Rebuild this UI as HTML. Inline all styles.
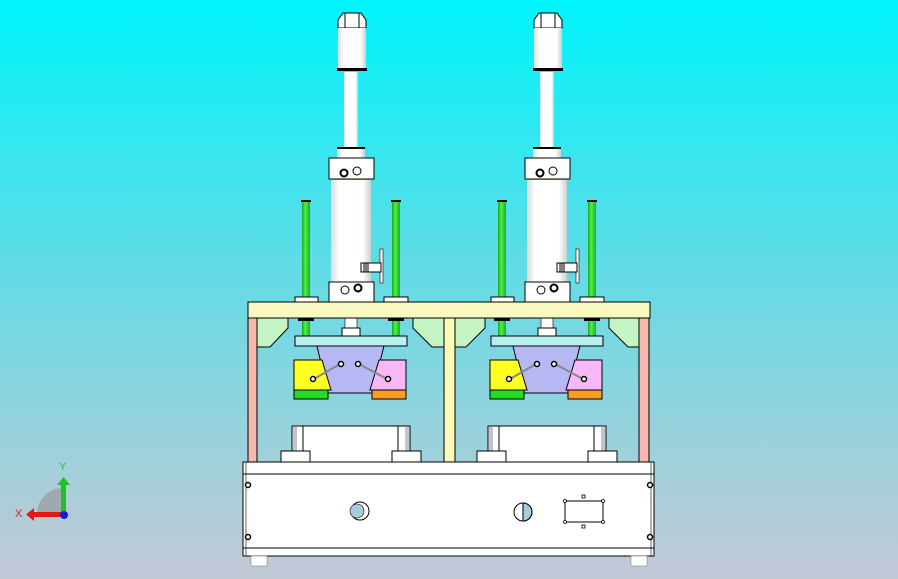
<!DOCTYPE html>
<html><head><meta charset="utf-8"><style>
html,body{margin:0;padding:0;width:898px;height:579px;overflow:hidden}
svg{display:block}
</style></head><body>
<svg width="898" height="579" viewBox="0 0 898 579" xmlns="http://www.w3.org/2000/svg" font-family="Liberation Sans, sans-serif">
<defs>
<linearGradient id="bg" x1="0" y1="0" x2="0" y2="1">
<stop offset="0" stop-color="#00f4fb"/>
<stop offset="0.45" stop-color="#5fdce6"/>
<stop offset="0.75" stop-color="#98d2dc"/>
<stop offset="1" stop-color="#c3c8d6"/>
</linearGradient>
<linearGradient id="cyl" x1="0" y1="0" x2="1" y2="0">
<stop offset="0" stop-color="#d8dcdc"/><stop offset="0.2" stop-color="#ffffff"/><stop offset="0.8" stop-color="#ffffff"/><stop offset="1" stop-color="#c8d0d0"/>
</linearGradient>
<linearGradient id="grn" x1="0" y1="0" x2="1" y2="0">
<stop offset="0" stop-color="#1aa81a"/><stop offset="0.4" stop-color="#4cf04c"/><stop offset="1" stop-color="#18b018"/>
</linearGradient>
<g id="unit" stroke="#000" stroke-width="1">
  <!-- green rods -->
  <rect x="302" y="201" width="8" height="100" fill="url(#grn)" stroke="none"/>
  <rect x="301" y="200" width="10" height="2" fill="#000" stroke="none"/>
  <rect x="392" y="201" width="8" height="100" fill="url(#grn)" stroke="none"/>
  <rect x="391" y="200" width="10" height="2" fill="#000" stroke="none"/>
  <rect x="295" y="297" width="23" height="5" fill="#fff"/>
  <rect x="384" y="297" width="24" height="5" fill="#fff"/>
  <!-- nut & top cylinder -->
  <path d="M338 28 L338 20 L343 13 L361 13 L366 20 L366 28 Z" fill="#fff"/>
  <line x1="345" y1="13" x2="345" y2="28"/><line x1="359" y1="13" x2="359" y2="28"/>
  <rect x="338" y="28" width="28" height="41" fill="url(#cyl)" stroke="none"/>
  <rect x="337" y="68" width="30" height="3" fill="#000" stroke="none"/>
  <!-- rod -->
  <rect x="344" y="72" width="14" height="75" fill="url(#cyl)" stroke="none"/>
  <rect x="337" y="147" width="28" height="2" fill="#000" stroke="none"/>
  <rect x="337" y="149" width="28" height="9" fill="url(#cyl)" stroke="none"/>
  <!-- body -->
  <rect x="331" y="180" width="40" height="102" fill="url(#cyl)" stroke="none"/>
  <rect x="329" y="158" width="45" height="21" fill="#fff"/>
  <circle cx="344" cy="173" r="3.5" fill="#fff" stroke-width="2"/>
  <circle cx="357" cy="171" r="4" fill="#fff"/>
  <rect x="329" y="282" width="45" height="20" fill="#fff"/>
  <circle cx="345" cy="290" r="4" fill="#fff"/>
  <circle cx="358" cy="288" r="3.5" fill="#fff" stroke-width="2"/>
  <!-- sensor -->
  <rect x="380" y="249" width="3" height="34" fill="#fff" stroke-width="0.6"/>
  <rect x="361" y="263" width="20" height="9" fill="#fff"/>
  <line x1="364" y1="263" x2="364" y2="272"/><line x1="366" y1="263" x2="366" y2="272"/><line x1="368" y1="263" x2="368" y2="272"/>
  <!-- below plate: rods and nut -->
  <rect x="302" y="318" width="8" height="18" fill="url(#grn)" stroke="none"/>
  <rect x="298" y="318" width="16" height="3" fill="#000" stroke="none"/>
  <rect x="392" y="318" width="8" height="18" fill="url(#grn)" stroke="none"/>
  <rect x="388" y="318" width="16" height="3" fill="#000" stroke="none"/>
  <rect x="345" y="318" width="12" height="10" fill="#fff" stroke-width="0.6"/>
  <rect x="342" y="328" width="18" height="8" fill="#fff"/>
  <!-- blue plate -->
  <rect x="295" y="336" width="112" height="10" fill="#b7f0f0"/>
  <!-- lavender -->
  <polygon points="317,346 384,346 372,393 328,393" fill="#b7b7f4"/>
  <!-- side blocks -->
  <polygon points="294,360 322,360 331,390 294,390" fill="#ffff22"/>
  <rect x="294" y="390" width="34" height="9" fill="#22dd22"/>
  <polygon points="379,360 406,360 406,390 370,390" fill="#f8b8f8"/>
  <rect x="372" y="390" width="34" height="9" fill="#ff9a22"/>
  <line x1="314" y1="379" x2="340" y2="364" stroke="#888" stroke-width="2"/>
  <line x1="359" y1="364" x2="387" y2="379" stroke="#888" stroke-width="2"/>
  <circle cx="341" cy="364" r="2.5" fill="#fff" stroke-width="1.5"/>
  <circle cx="358" cy="364" r="2.5" fill="#fff" stroke-width="1.5"/>
  <circle cx="313" cy="379" r="2.5" fill="#fff" stroke-width="1.5"/>
  <circle cx="388" cy="379" r="2.5" fill="#fff" stroke-width="1.5"/>
  <!-- lower fixture -->
  <rect x="292" y="426" width="118" height="36" fill="#fff"/>
  <rect x="293" y="427" width="4" height="35" fill="#c0c4cc" stroke="none"/>
  <rect x="405" y="427" width="4" height="35" fill="#c0c4cc" stroke="none"/>
  <line x1="303" y1="426" x2="303" y2="452"/><line x1="398" y1="426" x2="398" y2="452"/>
  <rect x="281" y="451" width="29" height="11" fill="#fff"/>
  <rect x="392" y="451" width="29" height="11" fill="#fff"/>
</g>
</defs>
<rect width="898" height="579" fill="url(#bg)"/>

<!-- frame posts -->
<rect x="248" y="316" width="9" height="147" fill="#f4b8ae" stroke="#000"/>
<rect x="639" y="316" width="10" height="147" fill="#f4b8ae" stroke="#000"/>
<rect x="444" y="316" width="11" height="147" fill="#fafab8" stroke="#000"/>
<!-- gussets -->
<g fill="#c4f4c4" stroke="#000">
<polygon points="257,318 288,318 288,328 270,347 257,347"/>
<polygon points="413,318 444,318 444,347 432,347 413,328"/>
<polygon points="455,318 485,318 485,328 466,347 455,347"/>
<polygon points="609,318 639,318 639,347 628,347 609,328"/>
</g>

<use href="#unit"/>
<use href="#unit" transform="translate(196,0)"/>

<!-- top plate -->
<rect x="248" y="302" width="402" height="16" fill="#fafac0" stroke="#000"/>

<!-- base box -->
<rect x="243" y="462" width="411" height="94" fill="#fff" stroke="#000"/>
<line x1="243" y1="474" x2="654" y2="474" stroke="#000"/>
<line x1="243" y1="548" x2="654" y2="548" stroke="#000"/>
<line x1="246" y1="462" x2="246" y2="556" stroke="#000" stroke-width="0.6"/>
<line x1="651" y1="462" x2="651" y2="556" stroke="#000" stroke-width="0.6"/>
<rect x="251" y="556" width="16" height="10" fill="#fff" stroke="#888" stroke-width="0.6"/>
<rect x="631" y="556" width="16" height="10" fill="#fff" stroke="#888" stroke-width="0.6"/>
<g fill="#fff" stroke="#000" stroke-width="1.5">
<circle cx="248" cy="485" r="2.5"/><circle cx="248" cy="537" r="2.5"/>
<circle cx="650" cy="485" r="2.5"/><circle cx="650" cy="537" r="2.5"/>
</g>
<circle cx="360" cy="511" r="9" fill="#fff" stroke="#000"/>
<circle cx="357" cy="511" r="7" fill="#a8ccd8" stroke="#000" stroke-width="0.6"/>
<circle cx="523" cy="512" r="9" fill="#fff" stroke="#000"/>
<path d="M523 503 A9 9 0 0 1 523 521 Z" fill="#a8ccd8" stroke="#000"/>
<rect x="565" y="501" width="38" height="21" fill="#fff" stroke="#000"/>
<g fill="#fff" stroke="#000" stroke-width="0.8">
<circle cx="565" cy="501" r="1.5"/><circle cx="603" cy="501" r="1.5"/><circle cx="565" cy="522" r="1.5"/><circle cx="603" cy="522" r="1.5"/>
<rect x="582" y="495" width="3" height="3"/><rect x="582" y="525" width="3" height="3"/>
</g>

<!-- axis triad -->
<path d="M63 488 A26 26 0 0 0 37 514 L63 514 Z" fill="#a0a8b0"/>
<rect x="61" y="484" width="5" height="30" fill="#1ec41e"/>
<polygon points="57,485 63.5,477 70,485" fill="#1ec41e"/>
<rect x="33" y="512" width="30" height="5" fill="#e01818"/>
<polygon points="34,508 26,514.5 34,521" fill="#e01818"/>
<circle cx="64" cy="515" r="4" fill="#1818e0"/>
<text x="59" y="470" font-size="11" fill="#22cc22">Y</text>
<text x="15" y="517" font-size="11" fill="#dd2020">X</text>
</svg>
</body></html>
